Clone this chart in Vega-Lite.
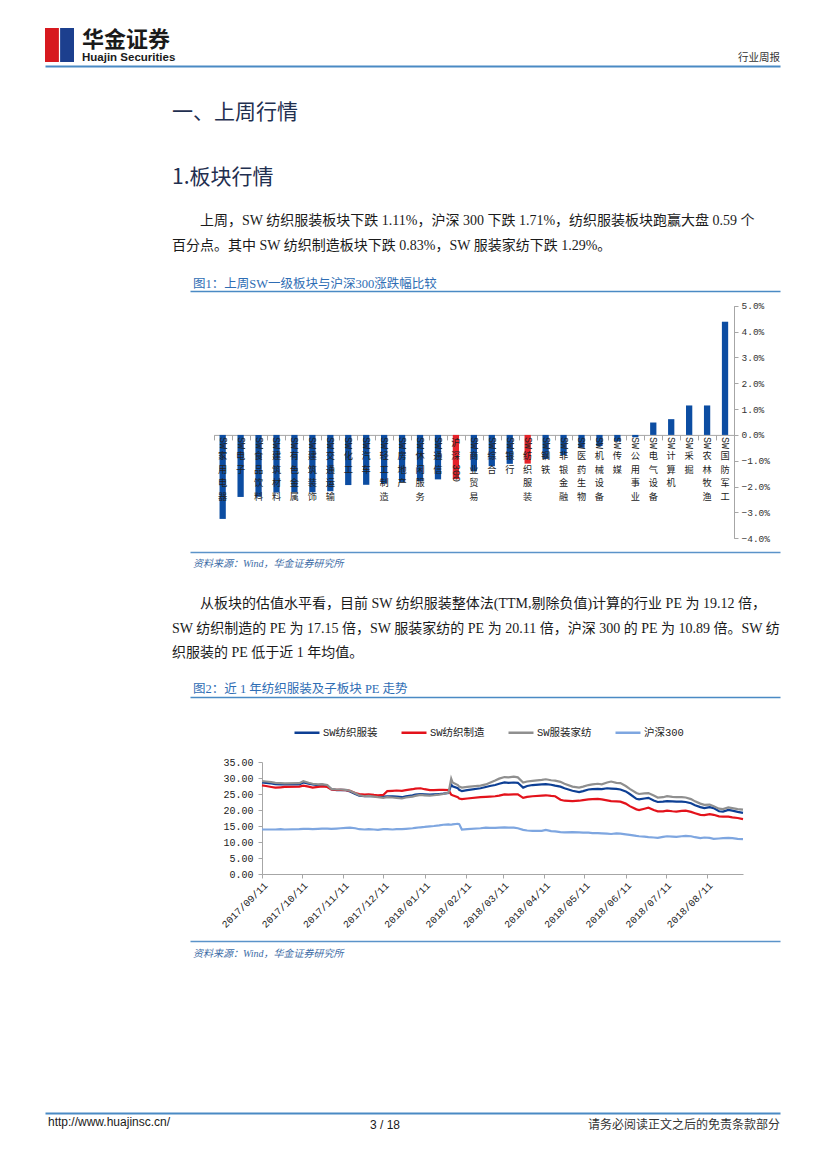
{
  "$schema": "https://vega.github.io/schema/vega-lite/v6.json",
  "padding": 0,
  "spacing": 0,
  "bounds": "flush",
  "background": "white",
  "resolve": {"scale": {"color": "independent"}, "legend": {"color": "independent"}},
  "config": {
    "view": {"stroke": null},
    "font": "Noto Sans CJK SC",
    "axis": {"labelOverlap": false},
    "title": {"baseline": "top", "anchor": "start", "frame": "group", "orient": "bottom", "fontWeight": "normal", "color": "#1a1a1a", "subtitleColor": "#1a1a1a"}
  },
  "datasets": {
    "bars": [
      {"name": "SW家用电器", "chars": ["家","用","电","器"], "v": -3.25},
      {"name": "SW电子", "chars": ["电","子"], "v": -2.4},
      {"name": "SW食品饮料", "chars": ["食","品","饮","料"], "v": -2.39},
      {"name": "SW建筑材料", "chars": ["建","筑","材","料"], "v": -2.23},
      {"name": "SW有色金属", "chars": ["有","色","金","属"], "v": -2.22},
      {"name": "SW建筑装饰", "chars": ["建","筑","装","饰"], "v": -2.22},
      {"name": "SW交通运输", "chars": ["交","通","运","输"], "v": -2.18},
      {"name": "SW化工", "chars": ["化","工"], "v": -1.94},
      {"name": "SW汽车", "chars": ["汽","车"], "v": -1.93},
      {"name": "SW轻工制造", "chars": ["轻","工","制","造"], "v": -1.88},
      {"name": "SW房地产", "chars": ["房","地","产"], "v": -1.82},
      {"name": "SW休闲服务", "chars": ["休","闲","服","务"], "v": -1.79},
      {"name": "SW通信", "chars": ["通","信"], "v": -1.72},
      {"name": "沪深300", "chars": ["沪","深"], "v": -1.71},
      {"name": "SW商业贸易", "chars": ["商","业","贸","易"], "v": -1.41},
      {"name": "SW综合", "chars": ["综","合"], "v": -1.21},
      {"name": "SW银行", "chars": ["银","行"], "v": -1.12},
      {"name": "SW纺织服装", "chars": ["纺","织","服","装"], "v": -1.11},
      {"name": "SW钢铁", "chars": ["钢","铁"], "v": -0.93},
      {"name": "SW非银金融", "chars": ["非","银","金","融"], "v": -0.78},
      {"name": "SW医药生物", "chars": ["医","药","生","物"], "v": -0.5},
      {"name": "SW机械设备", "chars": ["机","械","设","备"], "v": -0.43},
      {"name": "SW传媒", "chars": ["传","媒"], "v": -0.25},
      {"name": "SW公用事业", "chars": ["公","用","事","业"], "v": -0.09},
      {"name": "SW电气设备", "chars": ["电","气","设","备"], "v": 0.48},
      {"name": "SW计算机", "chars": ["计","算","机"], "v": 0.61},
      {"name": "SW采掘", "chars": ["采","掘"], "v": 1.14},
      {"name": "SW农林牧渔", "chars": ["农","林","牧","渔"], "v": 1.14},
      {"name": "SW国防军工", "chars": ["国","防","军","工"], "v": 4.38}
    ],
    "pe": [
      {"d": "2017-09-11", "SW纺织服装": 28.6, "SW纺织制造": 27.7, "SW服装家纺": 29.0, "沪深300": 13.9},
      {"d": "2017-09-14", "SW纺织服装": 28.5, "SW纺织制造": 27.5, "SW服装家纺": 28.9, "沪深300": 13.9},
      {"d": "2017-09-18", "SW纺织服装": 28.3, "SW纺织制造": 27.2, "SW服装家纺": 28.7, "沪深300": 13.9},
      {"d": "2017-09-21", "SW纺织服装": 28.1, "SW纺织制造": 27.0, "SW服装家纺": 28.5, "沪深300": 13.9},
      {"d": "2017-09-25", "SW纺织服装": 28.0, "SW纺织制造": 27.1, "SW服装家纺": 28.4, "沪深300": 14.0},
      {"d": "2017-09-28", "SW纺织服装": 28.0, "SW纺织制造": 27.2, "SW服装家纺": 28.3, "沪深300": 13.9},
      {"d": "2017-10-09", "SW纺织服装": 28.0, "SW纺织制造": 27.3, "SW服装家纺": 28.4, "沪深300": 14.0},
      {"d": "2017-10-12", "SW纺织服装": 28.6, "SW纺织制造": 27.6, "SW服装家纺": 29.0, "沪深300": 14.1},
      {"d": "2017-10-16", "SW纺织服装": 28.2, "SW纺织制造": 27.3, "SW服装家纺": 28.5, "沪深300": 14.1},
      {"d": "2017-10-19", "SW纺织服装": 28.0, "SW纺织制造": 27.0, "SW服装家纺": 28.2, "沪深300": 14.0},
      {"d": "2017-10-23", "SW纺织服装": 27.8, "SW纺织制造": 27.2, "SW服装家纺": 28.0, "沪深300": 14.1},
      {"d": "2017-10-26", "SW纺织服装": 27.9, "SW纺织制造": 27.4, "SW服装家纺": 28.1, "沪深300": 14.2},
      {"d": "2017-10-30", "SW纺织服装": 27.5, "SW纺织制造": 27.2, "SW服装家纺": 27.8, "沪深300": 14.2},
      {"d": "2017-11-02", "SW纺织服装": 26.5, "SW纺织制造": 26.4, "SW服装家纺": 26.6, "沪深300": 14.1},
      {"d": "2017-11-06", "SW纺织服装": 26.2, "SW纺织制造": 26.3, "SW服装家纺": 26.4, "沪深300": 14.2},
      {"d": "2017-11-09", "SW纺织服装": 26.3, "SW纺织制造": 26.3, "SW服装家纺": 26.4, "沪深300": 14.3},
      {"d": "2017-11-13", "SW纺织服装": 26.2, "SW纺织制造": 26.2, "SW服装家纺": 26.3, "沪深300": 14.4},
      {"d": "2017-11-16", "SW纺织服装": 25.8, "SW纺织制造": 26.0, "SW服装家纺": 26.0, "沪深300": 14.5},
      {"d": "2017-11-20", "SW纺织服装": 25.0, "SW纺织制造": 25.3, "SW服装家纺": 25.2, "沪深300": 14.3},
      {"d": "2017-11-23", "SW纺织服装": 24.5, "SW纺织制造": 25.0, "SW服装家纺": 24.6, "沪深300": 14.0},
      {"d": "2017-11-27", "SW纺织服装": 24.3, "SW纺织制造": 24.8, "SW服装家纺": 24.3, "沪深300": 13.9},
      {"d": "2017-11-30", "SW纺织服装": 24.4, "SW纺织制造": 24.9, "SW服装家纺": 24.4, "沪深300": 14.0},
      {"d": "2017-12-04", "SW纺织服装": 24.3, "SW纺织制造": 24.7, "SW服装家纺": 24.2, "沪深300": 13.9},
      {"d": "2017-12-07", "SW纺织服装": 24.2, "SW纺织制造": 24.6, "SW服装家纺": 24.0, "沪深300": 13.8},
      {"d": "2017-12-11", "SW纺织服装": 24.2, "SW纺织制造": 24.7, "SW服装家纺": 23.8, "沪深300": 14.0},
      {"d": "2017-12-14", "SW纺织服装": 24.3, "SW纺织制造": 25.9, "SW服装家纺": 24.0, "沪深300": 14.0},
      {"d": "2017-12-18", "SW纺织服装": 24.3, "SW纺织制造": 26.0, "SW服装家纺": 23.9, "沪深300": 13.9},
      {"d": "2017-12-21", "SW纺织服装": 24.2, "SW纺织制造": 26.1, "SW服装家纺": 23.8, "沪深300": 14.0},
      {"d": "2017-12-25", "SW纺织服装": 24.0, "SW纺织制造": 26.0, "SW服装家纺": 23.6, "沪深300": 14.0},
      {"d": "2017-12-28", "SW纺织服装": 24.3, "SW纺织制造": 26.2, "SW服装家纺": 23.9, "沪深300": 14.1},
      {"d": "2018-01-02", "SW纺织服装": 24.6, "SW纺织制造": 26.5, "SW服装家纺": 24.2, "沪深300": 14.3},
      {"d": "2018-01-04", "SW纺织服装": 24.8, "SW纺织制造": 26.7, "SW服装家纺": 24.4, "沪深300": 14.4},
      {"d": "2018-01-08", "SW纺织服装": 25.0, "SW纺织制造": 26.8, "SW服装家纺": 24.7, "沪深300": 14.6},
      {"d": "2018-01-11", "SW纺织服装": 24.9, "SW纺织制造": 26.5, "SW服装家纺": 24.6, "沪深300": 14.7},
      {"d": "2018-01-15", "SW纺织服装": 24.8, "SW纺织制造": 26.2, "SW服装家纺": 24.5, "沪深300": 14.9},
      {"d": "2018-01-18", "SW纺织服装": 24.9, "SW纺织制造": 26.2, "SW服装家纺": 24.6, "沪深300": 15.0},
      {"d": "2018-01-22", "SW纺织服装": 25.0, "SW纺织制造": 26.3, "SW服装家纺": 24.8, "沪深300": 15.2},
      {"d": "2018-01-25", "SW纺织服装": 25.1, "SW纺织制造": 26.3, "SW服装家纺": 25.0, "沪深300": 15.4},
      {"d": "2018-01-29", "SW纺织服装": 25.3, "SW纺织制造": 26.2, "SW服装家纺": 25.4, "沪深300": 15.5},
      {"d": "2018-01-31", "SW纺织服装": 27.9, "SW纺织制造": 24.8, "SW服装家纺": 29.8, "沪深300": 15.4},
      {"d": "2018-02-01", "SW纺织服装": 27.4, "SW纺织制造": 24.6, "SW服装家纺": 28.6, "沪深300": 15.5},
      {"d": "2018-02-05", "SW纺织服装": 26.8, "SW纺织制造": 24.0, "SW服装家纺": 27.8, "沪深300": 15.7},
      {"d": "2018-02-06", "SW纺织服装": 26.3, "SW纺织制造": 23.6, "SW服装家纺": 27.3, "沪深300": 15.6},
      {"d": "2018-02-08", "SW纺织服装": 25.9, "SW纺织制造": 23.4, "SW服装家纺": 27.0, "沪深300": 13.9},
      {"d": "2018-02-12", "SW纺织服装": 26.2, "SW纺织制造": 23.6, "SW服装家纺": 27.2, "沪深300": 14.0},
      {"d": "2018-02-22", "SW纺织服装": 26.8, "SW纺织制造": 24.0, "SW服装家纺": 27.6, "沪深300": 14.3},
      {"d": "2018-02-26", "SW纺织服装": 27.2, "SW纺织制造": 24.1, "SW服装家纺": 28.0, "沪深300": 14.5},
      {"d": "2018-03-01", "SW纺织服装": 27.5, "SW纺织制造": 24.2, "SW服装家纺": 28.5, "沪深300": 14.4},
      {"d": "2018-03-05", "SW纺织服装": 27.8, "SW纺织制造": 24.3, "SW服装家纺": 29.2, "沪深300": 14.4},
      {"d": "2018-03-08", "SW纺织服装": 28.2, "SW纺织制造": 24.5, "SW服装家纺": 29.8, "沪深300": 14.5},
      {"d": "2018-03-12", "SW纺织服装": 28.6, "SW纺织制造": 24.9, "SW服装家纺": 30.3, "沪深300": 14.6},
      {"d": "2018-03-15", "SW纺织服装": 28.5, "SW纺织制造": 24.8, "SW服装家纺": 30.2, "沪深300": 14.5},
      {"d": "2018-03-19", "SW纺织服装": 28.6, "SW纺织制造": 24.9, "SW服装家纺": 30.4, "沪深300": 14.5},
      {"d": "2018-03-22", "SW纺织服装": 28.5, "SW纺织制造": 24.9, "SW服装家纺": 30.2, "沪深300": 14.3},
      {"d": "2018-03-26", "SW纺织服装": 27.0, "SW纺织制造": 23.8, "SW服装家纺": 28.6, "沪深300": 13.8},
      {"d": "2018-03-29", "SW纺织服装": 27.5, "SW纺织制造": 24.1, "SW服装家纺": 28.9, "沪深300": 13.6},
      {"d": "2018-04-02", "SW纺织服装": 27.8, "SW纺织制造": 24.3, "SW服装家纺": 29.1, "沪深300": 13.5},
      {"d": "2018-04-09", "SW纺织服装": 28.0, "SW纺织制造": 24.5, "SW服装家纺": 29.4, "沪深300": 13.5},
      {"d": "2018-04-12", "SW纺织服装": 28.1, "SW纺织制造": 24.6, "SW服装家纺": 29.6, "沪深300": 13.8},
      {"d": "2018-04-16", "SW纺织服装": 27.9, "SW纺织制造": 24.4, "SW服装家纺": 29.3, "沪深300": 13.4},
      {"d": "2018-04-19", "SW纺织服装": 27.6, "SW纺织制造": 24.3, "SW服装家纺": 29.2, "沪深300": 13.3},
      {"d": "2018-04-23", "SW纺织服装": 27.3, "SW纺织制造": 23.2, "SW服装家纺": 28.8, "沪深300": 13.1},
      {"d": "2018-04-26", "SW纺织服装": 26.8, "SW纺织制造": 22.9, "SW服装家纺": 28.2, "沪深300": 13.0},
      {"d": "2018-05-02", "SW纺织服装": 26.0, "SW纺织制造": 22.8, "SW服装家纺": 27.3, "沪深300": 13.1},
      {"d": "2018-05-07", "SW纺织服装": 25.6, "SW纺织制造": 22.9, "SW服装家纺": 27.0, "沪深300": 13.0},
      {"d": "2018-05-10", "SW纺织服装": 25.9, "SW纺织制造": 23.1, "SW服装家纺": 27.3, "沪深300": 12.9},
      {"d": "2018-05-14", "SW纺织服装": 26.4, "SW纺织制造": 23.3, "SW服装家纺": 27.8, "沪深300": 12.9},
      {"d": "2018-05-17", "SW纺织服装": 26.5, "SW纺织制造": 23.4, "SW服装家纺": 28.0, "沪深300": 12.8},
      {"d": "2018-05-21", "SW纺织服装": 26.6, "SW纺织制造": 23.5, "SW服装家纺": 28.2, "沪深300": 12.8},
      {"d": "2018-05-24", "SW纺织服装": 26.5, "SW纺织制造": 23.3, "SW服装家纺": 28.0, "沪深300": 12.7},
      {"d": "2018-05-28", "SW纺织服装": 26.8, "SW纺织制造": 23.0, "SW服装家纺": 28.6, "沪深300": 12.6},
      {"d": "2018-05-31", "SW纺织服装": 26.7, "SW纺织制造": 22.8, "SW服装家纺": 28.9, "沪深300": 12.5},
      {"d": "2018-06-04", "SW纺织服装": 26.6, "SW纺织制造": 22.7, "SW服装家纺": 28.5, "沪深300": 12.7},
      {"d": "2018-06-07", "SW纺织服装": 26.4, "SW纺织制造": 22.6, "SW服装家纺": 28.4, "沪深300": 12.6},
      {"d": "2018-06-11", "SW纺织服装": 25.8, "SW纺织制造": 22.0, "SW服装家纺": 27.5, "沪深300": 12.4},
      {"d": "2018-06-14", "SW纺织服装": 25.0, "SW纺织制造": 21.2, "SW服装家纺": 26.6, "沪深300": 12.2},
      {"d": "2018-06-19", "SW纺织服装": 23.5, "SW纺织制造": 20.2, "SW服装家纺": 25.3, "沪深300": 11.9},
      {"d": "2018-06-21", "SW纺织服装": 23.3, "SW纺织制造": 20.0, "SW服装家纺": 25.0, "沪深300": 11.8},
      {"d": "2018-06-25", "SW纺织服装": 23.6, "SW纺织制造": 20.4, "SW服装家纺": 25.2, "沪深300": 11.7},
      {"d": "2018-06-28", "SW纺织服装": 23.8, "SW纺织制造": 20.7, "SW服装家纺": 25.3, "沪深300": 11.5},
      {"d": "2018-07-02", "SW纺织服装": 23.0, "SW纺织制造": 20.0, "SW服装家纺": 24.5, "沪深300": 11.4},
      {"d": "2018-07-05", "SW纺织服装": 22.5, "SW纺织制造": 19.6, "SW服装家纺": 23.9, "沪深300": 11.3},
      {"d": "2018-07-09", "SW纺织服装": 22.6, "SW纺织制造": 19.6, "SW服装家纺": 24.0, "沪深300": 11.6},
      {"d": "2018-07-12", "SW纺织服装": 22.8, "SW纺织制造": 19.8, "SW服装家纺": 24.3, "沪深300": 11.8},
      {"d": "2018-07-16", "SW纺织服装": 22.7, "SW纺织制造": 19.6, "SW服装家纺": 24.1, "沪深300": 11.7},
      {"d": "2018-07-19", "SW纺织服装": 22.6, "SW纺织制造": 19.5, "SW服装家纺": 24.0, "沪深300": 11.6},
      {"d": "2018-07-23", "SW纺织服装": 22.6, "SW纺织制造": 19.7, "SW服装家纺": 24.0, "沪深300": 11.8},
      {"d": "2018-07-26", "SW纺织服装": 22.5, "SW纺织制造": 19.8, "SW服装家纺": 23.9, "沪深300": 11.9},
      {"d": "2018-07-30", "SW纺织服装": 22.1, "SW纺织制造": 19.4, "SW服装家纺": 23.4, "沪深300": 11.8},
      {"d": "2018-08-02", "SW纺织服装": 21.5, "SW纺织制造": 19.0, "SW服装家纺": 22.7, "沪深300": 11.5},
      {"d": "2018-08-06", "SW纺织服装": 20.9, "SW纺织制造": 18.5, "SW服装家纺": 22.0, "沪深300": 11.2},
      {"d": "2018-08-09", "SW纺织服装": 20.6, "SW纺织制造": 18.4, "SW服装家纺": 21.6, "沪深300": 11.4},
      {"d": "2018-08-13", "SW纺织服装": 20.9, "SW纺织制造": 18.7, "SW服装家纺": 21.7, "沪深300": 11.3},
      {"d": "2018-08-16", "SW纺织服装": 20.6, "SW纺织制造": 18.5, "SW服装家纺": 21.2, "沪深300": 11.0},
      {"d": "2018-08-20", "SW纺织服装": 19.6, "SW纺织制造": 18.0, "SW服装家纺": 20.4, "沪深300": 11.1},
      {"d": "2018-08-23", "SW纺织服装": 19.5, "SW纺织制造": 17.9, "SW服装家纺": 20.3, "沪深300": 11.2},
      {"d": "2018-08-27", "SW纺织服装": 20.0, "SW纺织制造": 17.9, "SW服装家纺": 20.8, "沪深300": 11.3},
      {"d": "2018-08-30", "SW纺织服装": 19.8, "SW纺织制造": 17.7, "SW服装家纺": 20.6, "沪深300": 11.2},
      {"d": "2018-09-03", "SW纺织服装": 19.4, "SW纺织制造": 17.5, "SW服装家纺": 20.3, "沪深300": 11.0},
      {"d": "2018-09-07", "SW纺织服装": 19.12, "SW纺织制造": 17.15, "SW服装家纺": 20.11, "沪深300": 10.89}
    ]
  },
  "vconcat": [
    {
      "width": 827, "height": 28,
      "data": {"values": [{"v": 0}]},
      "mark": {"type": "point", "opacity": 0},
      "encoding": {"x": {"field": "v", "type": "quantitative", "axis": null}},
      "title": {"text": "华金证券", "subtitle": "Huajin Securities", "dx": 82, "offset": 2, "fontSize": 22, "fontWeight": "bold", "color": "#1a1a1a", "subtitleFont": "Liberation Sans", "subtitleFontSize": 11.5, "subtitleFontWeight": "bold", "subtitleColor": "#1a1a1a", "subtitlePadding": 0}
    },
    {
      "width": 827, "height": 34,
      "data": {"values": [{"part": "左", "v": 1}, {"part": "右", "v": 1}]},
      "mark": {"type": "bar"},
      "encoding": {
        "x": {"field": "part", "type": "nominal", "sort": null, "scale": {"range": [45, 74], "paddingInner": 0.08, "paddingOuter": 0}, "axis": null},
        "y": {"field": "v", "type": "quantitative", "scale": {"domain": [0, 1]}, "axis": null},
        "color": {"condition": {"test": "datum.part === '左'", "value": "#d7191f"}, "value": "#1c3f8e"}
      },
      "title": {"text": "行业周报", "anchor": "end", "dx": -47, "offset": -9.2, "fontSize": 10.5, "color": "#333333"}
    },
    {
      "width": 827, "height": 38,
      "data": {"values": [{"v": 0}]},
      "mark": {"type": "point", "opacity": 0},
      "encoding": {
        "x": {"field": "v", "type": "quantitative", "scale": {"domain": [0, 1], "range": [45, 780]}, "axis": {"orient": "top", "offset": -4, "domainColor": "#4a8ac4", "domainWidth": 2, "ticks": false, "labels": false, "grid": false, "title": null}}
      },
      "title": {"text": "一、上周行情", "dx": 172, "offset": 1.6, "fontSize": 21, "color": "#1f2f50"}
    },
    {
      "width": 827, "height": 66,
      "data": {"values": [{"v": 0}]},
      "mark": {"type": "point", "opacity": 0},
      "encoding": {"x": {"field": "v", "type": "quantitative", "axis": null}},
      "title": {"text": "1.板块行情", "dx": 172, "offset": 0.6, "fontSize": 21, "color": "#1f2f50"}
    },
    {
      "width": 827, "height": 48,
      "data": {"values": [{"v": 0}]},
      "mark": {"type": "point", "opacity": 0},
      "encoding": {"x": {"field": "v", "type": "quantitative", "axis": null}},
      "title": {"text": ["\u200b\u3000\u3000上周，SW 纺织服装板块下跌 1.11%，沪深 300 下跌 1.71%，纺织服装板块跑赢大盘 0.59 个", "百分点。其中 SW 纺织制造板块下跌 0.83%，SW 服装家纺下跌 1.29%。"], "dx": 172, "offset": 0.4, "font": "Liberation Serif, Noto Sans CJK SC", "fontSize": 14, "lineHeight": 25, "color": "#1a1a1a"}
    },
    {
      "width": 827, "height": 64,
      "data": {"values": [{"v": 0}]},
      "mark": {"type": "point", "opacity": 0},
      "encoding": {"x": {"field": "v", "type": "quantitative", "axis": null}},
      "title": {"text": "图1：上周SW一级板块与沪深300涨跌幅比较", "dx": 193, "offset": 0.2, "font": "Liberation Serif, Noto Sans CJK SC", "fontSize": 12.5, "color": "#2e6db4"}
    },
    {
      "width": 827, "height": 13,
      "data": {"values": [{"v": 0}]},
      "mark": {"type": "point", "opacity": 0},
      "encoding": {"x": {"field": "v", "type": "quantitative", "scale": {"domain": [0, 1], "range": [190, 780]}, "axis": {"orient": "bottom", "domainColor": "#4a8ac4", "domainWidth": 1.5, "ticks": false, "labels": false, "grid": false, "title": null}}}
    },
    {
      "width": 827, "height": 261,
      "title": {"text": "资料来源：Wind，华金证券研究所", "dx": 193, "offset": 6.5, "font": "Liberation Serif, Noto Sans CJK SC", "fontSize": 10, "fontStyle": "italic", "color": "#3d6ca6"},
      "data": {"name": "bars"},
      "resolve": {"scale": {"x": "independent", "y": "independent"}},
      "layer": [
        {
          "mark": {"type": "bar"},
          "encoding": {
            "x": {"field": "name", "type": "nominal", "sort": null,
              "scale": {"domain": ["SW家用电器","SW电子","SW食品饮料","SW建筑材料","SW有色金属","SW建筑装饰","SW交通运输","SW化工","SW汽车","SW轻工制造","SW房地产","SW休闲服务","SW通信","沪深300","SW商业贸易","SW综合","SW银行","SW纺织服装","SW钢铁","SW非银金融","SW医药生物","SW机械设备","SW传媒","SW公用事业","SW电气设备","SW计算机","SW采掘","SW农林牧渔","SW国防军工"], "range": [213.7, 734], "paddingInner": 0.65, "paddingOuter": 0.325},
              "axis": {"orient": "bottom", "offset": -117.1, "labels": false, "ticks": true, "tickSize": 5, "bandPosition": 0.5, "tickOffset": -9, "domainColor": "#a6a6a6", "tickColor": "#a6a6a6", "domainWidth": 1, "grid": false, "title": null}},
            "y": {"field": "v", "type": "quantitative",
              "scale": {"domain": [-4, 5], "range": [247.3, 14.7], "nice": false},
              "axis": {"orient": "right", "offset": -93, "values": [-4, -3, -2, -1, 0, 1, 2, 3, 4, 5], "labelExpr": "format(datum.value, '.1f') + '%'", "labelOverlap": false, "tickSize": 4, "labelPadding": 3, "labelFont": "Liberation Mono", "labelFontSize": 9.5, "labelColor": "#333333", "domainColor": "#a6a6a6", "tickColor": "#a6a6a6", "grid": false, "title": null}},
            "color": {"condition": {"test": "datum.name === '沪深300' || datum.name === 'SW纺织服装'", "value": "#e5222a"}, "value": "#0c4da2"}
          }
        },
        {
          "transform": [{"filter": "datum.name !== '沪深300'"}],
          "mark": {"type": "text", "text": "SW", "angle": 90, "align": "left", "baseline": "middle", "dx": 2, "font": "Liberation Mono", "fontSize": 10, "fill": "#222222"},
          "encoding": {
            "x": {"field": "name", "type": "nominal", "sort": null, "axis": null,
              "scale": {"domain": ["SW家用电器","SW电子","SW食品饮料","SW建筑材料","SW有色金属","SW建筑装饰","SW交通运输","SW化工","SW汽车","SW轻工制造","SW房地产","SW休闲服务","SW通信","沪深300","SW商业贸易","SW综合","SW银行","SW纺织服装","SW钢铁","SW非银金融","SW医药生物","SW机械设备","SW传媒","SW公用事业","SW电气设备","SW计算机","SW采掘","SW农林牧渔","SW国防军工"], "range": [213.7, 734], "paddingInner": 0.65, "paddingOuter": 0.325}},
            "y": {"datum": 0, "type": "quantitative", "axis": null, "scale": {"domain": [-4, 5], "range": [247.3, 14.7], "nice": false}}
          }
        },
        {
          "transform": [{"filter": "datum.name !== '沪深300'"}],
          "mark": {"type": "text", "align": "center", "baseline": "top", "dy": 17.5, "fontSize": 9.2, "lineHeight": 13.4, "fill": "#222222"},
          "encoding": {
            "x": {"field": "name", "type": "nominal", "sort": null, "axis": null,
              "scale": {"domain": ["SW家用电器","SW电子","SW食品饮料","SW建筑材料","SW有色金属","SW建筑装饰","SW交通运输","SW化工","SW汽车","SW轻工制造","SW房地产","SW休闲服务","SW通信","沪深300","SW商业贸易","SW综合","SW银行","SW纺织服装","SW钢铁","SW非银金融","SW医药生物","SW机械设备","SW传媒","SW公用事业","SW电气设备","SW计算机","SW采掘","SW农林牧渔","SW国防军工"], "range": [213.7, 734], "paddingInner": 0.65, "paddingOuter": 0.325}},
            "y": {"datum": 0, "type": "quantitative", "axis": null, "scale": {"domain": [-4, 5], "range": [247.3, 14.7], "nice": false}},
            "text": {"field": "chars", "type": "nominal"}
          }
        },
        {
          "transform": [{"filter": "datum.name === '沪深300'"}],
          "mark": {"type": "text", "align": "center", "baseline": "top", "dy": 4, "fontSize": 9.2, "lineHeight": 13.4, "fill": "#222222"},
          "encoding": {
            "x": {"field": "name", "type": "nominal", "sort": null, "axis": null,
              "scale": {"domain": ["SW家用电器","SW电子","SW食品饮料","SW建筑材料","SW有色金属","SW建筑装饰","SW交通运输","SW化工","SW汽车","SW轻工制造","SW房地产","SW休闲服务","SW通信","沪深300","SW商业贸易","SW综合","SW银行","SW纺织服装","SW钢铁","SW非银金融","SW医药生物","SW机械设备","SW传媒","SW公用事业","SW电气设备","SW计算机","SW采掘","SW农林牧渔","SW国防军工"], "range": [213.7, 734], "paddingInner": 0.65, "paddingOuter": 0.325}},
            "y": {"datum": 0, "type": "quantitative", "axis": null, "scale": {"domain": [-4, 5], "range": [247.3, 14.7], "nice": false}},
            "text": {"field": "chars", "type": "nominal"}
          }
        },
        {
          "transform": [{"filter": "datum.name === '沪深300'"}],
          "mark": {"type": "text", "text": "300", "angle": 90, "align": "left", "baseline": "middle", "dx": 29, "font": "Liberation Mono", "fontSize": 10, "fill": "#222222"},
          "encoding": {
            "x": {"field": "name", "type": "nominal", "sort": null, "axis": null,
              "scale": {"domain": ["SW家用电器","SW电子","SW食品饮料","SW建筑材料","SW有色金属","SW建筑装饰","SW交通运输","SW化工","SW汽车","SW轻工制造","SW房地产","SW休闲服务","SW通信","沪深300","SW商业贸易","SW综合","SW银行","SW纺织服装","SW钢铁","SW非银金融","SW医药生物","SW机械设备","SW传媒","SW公用事业","SW电气设备","SW计算机","SW采掘","SW农林牧渔","SW国防军工"], "range": [213.7, 734], "paddingInner": 0.65, "paddingOuter": 0.325}},
            "y": {"datum": 0, "type": "quantitative", "axis": null, "scale": {"domain": [-4, 5], "range": [247.3, 14.7], "nice": false}}
          }
        }
      ]
    },
    {
      "width": 827, "height": 45,
      "data": {"values": [{"v": 0}]},
      "mark": {"type": "point", "opacity": 0},
      "encoding": {"x": {"field": "v", "type": "quantitative", "scale": {"domain": [0, 1], "range": [190, 780]}, "axis": {"orient": "top", "domainColor": "#5b93c9", "domainWidth": 1.5, "ticks": false, "labels": false, "grid": false, "title": null}}},
      "title": {"text": ["\u200b\u3000\u3000从板块的估值水平看，目前 SW 纺织服装整体法(TTM,剔除负值)计算的行业 PE 为 19.12 倍，", "SW 纺织制造的 PE 为 17.15 倍，SW 服装家纺的 PE 为 20.11 倍，沪深 300 的 PE 为 10.89 倍。SW 纺", "织服装的 PE 低于近 1 年均值。"], "dx": 172, "offset": 0.4, "font": "Liberation Serif, Noto Sans CJK SC", "fontSize": 14, "lineHeight": 24.5, "color": "#1a1a1a"}
    },
    {
      "width": 827, "height": 86,
      "data": {"values": [{"v": 0}]},
      "mark": {"type": "point", "opacity": 0},
      "encoding": {"x": {"field": "v", "type": "quantitative", "axis": null}},
      "title": {"text": "图2：近 1 年纺织服装及子板块 PE 走势", "dx": 193, "offset": 0.2, "font": "Liberation Serif, Noto Sans CJK SC", "fontSize": 12.5, "color": "#2e6db4"}
    },
    {
      "width": 827, "height": 14,
      "data": {"values": [{"v": 0}]},
      "mark": {"type": "point", "opacity": 0},
      "encoding": {"x": {"field": "v", "type": "quantitative", "scale": {"domain": [0, 1], "range": [190, 780]}, "axis": {"orient": "bottom", "domainColor": "#4a8ac4", "domainWidth": 1.5, "ticks": false, "labels": false, "grid": false, "title": null}}}
    },
    {
      "width": 827, "height": 244,
      "title": {"text": "资料来源：Wind，华金证券研究所", "dx": 193, "offset": 7.5, "font": "Liberation Serif, Noto Sans CJK SC", "fontSize": 10, "fontStyle": "italic", "color": "#3d6ca6"},
      "data": {"name": "pe"},
      "transform": [{"fold": ["SW纺织服装", "SW纺织制造", "SW服装家纺", "沪深300"], "as": ["series", "val"]}],
      "mark": {"type": "line", "strokeWidth": 2.2},
      "encoding": {
        "x": {"field": "d", "type": "temporal",
          "scale": {"type": "utc", "domain": [{"year": 2017, "month": 9, "date": 11, "utc": true}, {"year": 2018, "month": 9, "date": 7, "utc": true}], "range": [262, 743]},
          "axis": {"orient": "bottom", "offset": -67,
            "values": [
              {"year": 2017, "month": 9, "date": 11, "utc": true},
              {"year": 2017, "month": 10, "date": 11, "utc": true},
              {"year": 2017, "month": 11, "date": 11, "utc": true},
              {"year": 2017, "month": 12, "date": 11, "utc": true},
              {"year": 2018, "month": 1, "date": 11, "utc": true},
              {"year": 2018, "month": 2, "date": 11, "utc": true},
              {"year": 2018, "month": 3, "date": 11, "utc": true},
              {"year": 2018, "month": 4, "date": 11, "utc": true},
              {"year": 2018, "month": 5, "date": 11, "utc": true},
              {"year": 2018, "month": 6, "date": 11, "utc": true},
              {"year": 2018, "month": 7, "date": 11, "utc": true},
              {"year": 2018, "month": 8, "date": 11, "utc": true}
            ],
            "labelExpr": "utcFormat(datum.value, '%Y/%m/%d')", "labelAngle": -45, "labelFlush": false, "labelOverlap": false, "labelFont": "Liberation Mono", "labelFontSize": 10, "labelColor": "#222222", "labelPadding": 2, "tickSize": 4, "domainColor": "#a6a6a6", "tickColor": "#a6a6a6", "grid": false, "title": null}},
        "y": {"field": "val", "type": "quantitative",
          "scale": {"domain": [0, 35], "range": [177, 65], "nice": false},
          "axis": {"orient": "left", "offset": -262, "values": [0, 5, 10, 15, 20, 25, 30, 35], "format": ".2f", "labelFont": "Liberation Mono", "labelFontSize": 10, "labelColor": "#222222", "labelPadding": 5, "tickSize": 4, "domainColor": "#a6a6a6", "tickColor": "#a6a6a6", "grid": false, "title": null}},
        "color": {"field": "series", "type": "nominal",
          "scale": {"domain": ["SW纺织服装", "SW纺织制造", "SW服装家纺", "沪深300"], "range": ["#0d3f94", "#e3121b", "#8f8f8f", "#7ea6e0"]},
          "legend": {"orient": "none", "legendX": 293, "legendY": 21.5, "direction": "horizontal", "symbolType": "stroke", "symbolSize": 625, "symbolStrokeWidth": 2.5, "labelFont": "Liberation Mono, Noto Sans CJK SC", "labelFontSize": 10.5, "labelColor": "#222222", "labelOffset": 2, "columnPadding": 18, "padding": 0, "title": null}}
      }
    },
    {
      "width": 827, "height": 1,
      "data": {"values": [{"v": 0}]},
      "mark": {"type": "point", "opacity": 0},
      "encoding": {"x": {"field": "v", "type": "quantitative", "scale": {"domain": [0, 1], "range": [190, 780]}, "axis": {"orient": "top", "domainColor": "#5b93c9", "domainWidth": 1.5, "ticks": false, "labels": false, "grid": false, "title": null}}}
    },
    {
      "width": 827, "height": 171,
      "data": {"values": [{"v": 0}]},
      "mark": {"type": "point", "opacity": 0},
      "encoding": {
        "x": {"field": "v", "type": "quantitative", "scale": {"domain": [0, 1], "range": [45, 780]}, "axis": {"orient": "bottom", "domainColor": "#4a8ac4", "domainWidth": 2, "ticks": false, "labels": false, "grid": false, "title": null}}
      },
      "title": {"text": "http://www.huajinsc.cn/", "dx": 48, "offset": 4, "font": "Liberation Sans", "fontSize": 12, "color": "#1a1a1a"}
    },
    {
      "width": 827, "height": 1,
      "data": {"values": [{"v": 0}]},
      "mark": {"type": "point", "opacity": 0},
      "encoding": {"x": {"field": "v", "type": "quantitative", "axis": null}},
      "title": {"text": "3 / 18", "dx": 370, "offset": 3.5, "font": "Liberation Sans", "fontSize": 12, "color": "#1a1a1a"}
    },
    {
      "width": 827, "height": 1,
      "data": {"values": [{"v": 0}]},
      "mark": {"type": "point", "opacity": 0},
      "encoding": {"x": {"field": "v", "type": "quantitative", "axis": null}},
      "title": {"text": "请务必阅读正文之后的免责条款部分", "anchor": "end", "dx": -47, "offset": 3.2, "fontSize": 12, "color": "#333333"}
    }
  ]
}
